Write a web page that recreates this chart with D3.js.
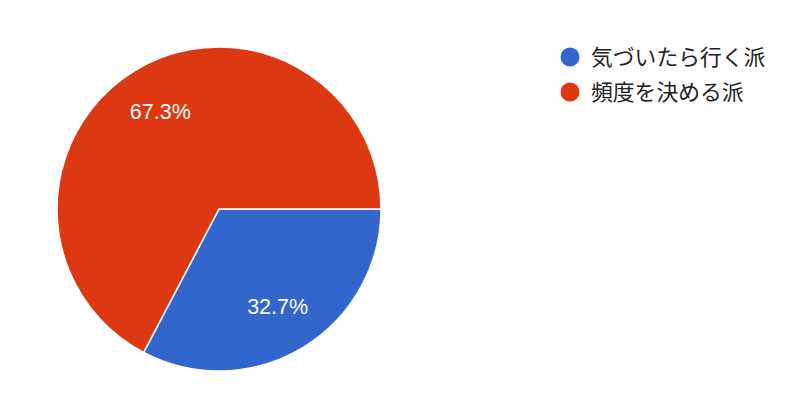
<!DOCTYPE html>
<html lang="ja">
<head>
    <meta charset="UTF-8">
    <title>Pie chart</title>
    <script src="https://d3js.org/d3.v7.min.js"></script>
    <style>
        body { margin: 0; background: #fff; }
        .slice-label {
            font-family: "Liberation Sans", Arial, sans-serif;
            font-size: 21.5px;
            fill: #fff;
            text-anchor: middle;
        }
        .legend text {
            font-family: "Noto Sans CJK JP", "Liberation Sans", sans-serif;
            font-size: 21.8px;
            fill: #222;
        }
    </style>
</head>
<body>
    <svg></svg>
    <script>
        // data
        const categories = ["気づいたら行く派", "頻度を決める派"];
        const values = [32.7, 67.3];
        const colors = ["#3366cc", "#dc3912"];

        const width = 810, height = 412;
        const cx = 219, cy = 209, radius = 162;

        const svg = d3.select("svg")
            .attr("width", width)
            .attr("height", height);

        // start at 3 o'clock, clockwise
        const pie = d3.pie()
            .sort(null)
            .value(d => d)
            .startAngle(Math.PI / 2)
            .endAngle(Math.PI / 2 + 2 * Math.PI);

        const arc = d3.arc().innerRadius(0).outerRadius(radius);
        const labelArc = d3.arc().innerRadius(radius * 0.7).outerRadius(radius * 0.7);

        const g = svg.append("g").attr("transform", `translate(${cx},${cy})`);
        const arcs = pie(values);

        g.selectAll("path")
            .data(arcs)
            .enter().append("path")
            .attr("d", arc)
            .attr("fill", (d, i) => colors[i])
            .attr("stroke", "#fff")
            .attr("stroke-width", 1.5);

        g.selectAll(".slice-label")
            .data(arcs)
            .enter().append("text")
            .attr("class", "slice-label")
            .attr("transform", d => `translate(${labelArc.centroid(d)})`)
            .attr("dy", "0.35em")
            .text(d => d.value.toFixed(1) + "%");

        // legend
        const legend = svg.append("g")
            .attr("class", "legend")
            .attr("transform", "translate(570,57)");

        const item = legend.selectAll("g")
            .data(categories)
            .enter().append("g")
            .attr("transform", (d, i) => `translate(0,${i * 35})`);

        item.append("circle")
            .attr("r", 9.5)
            .attr("fill", (d, i) => colors[i]);

        item.append("text")
            .attr("x", 21)
            .attr("dy", "0.35em")
            .text(d => d);
    </script>
</body>
</html>
